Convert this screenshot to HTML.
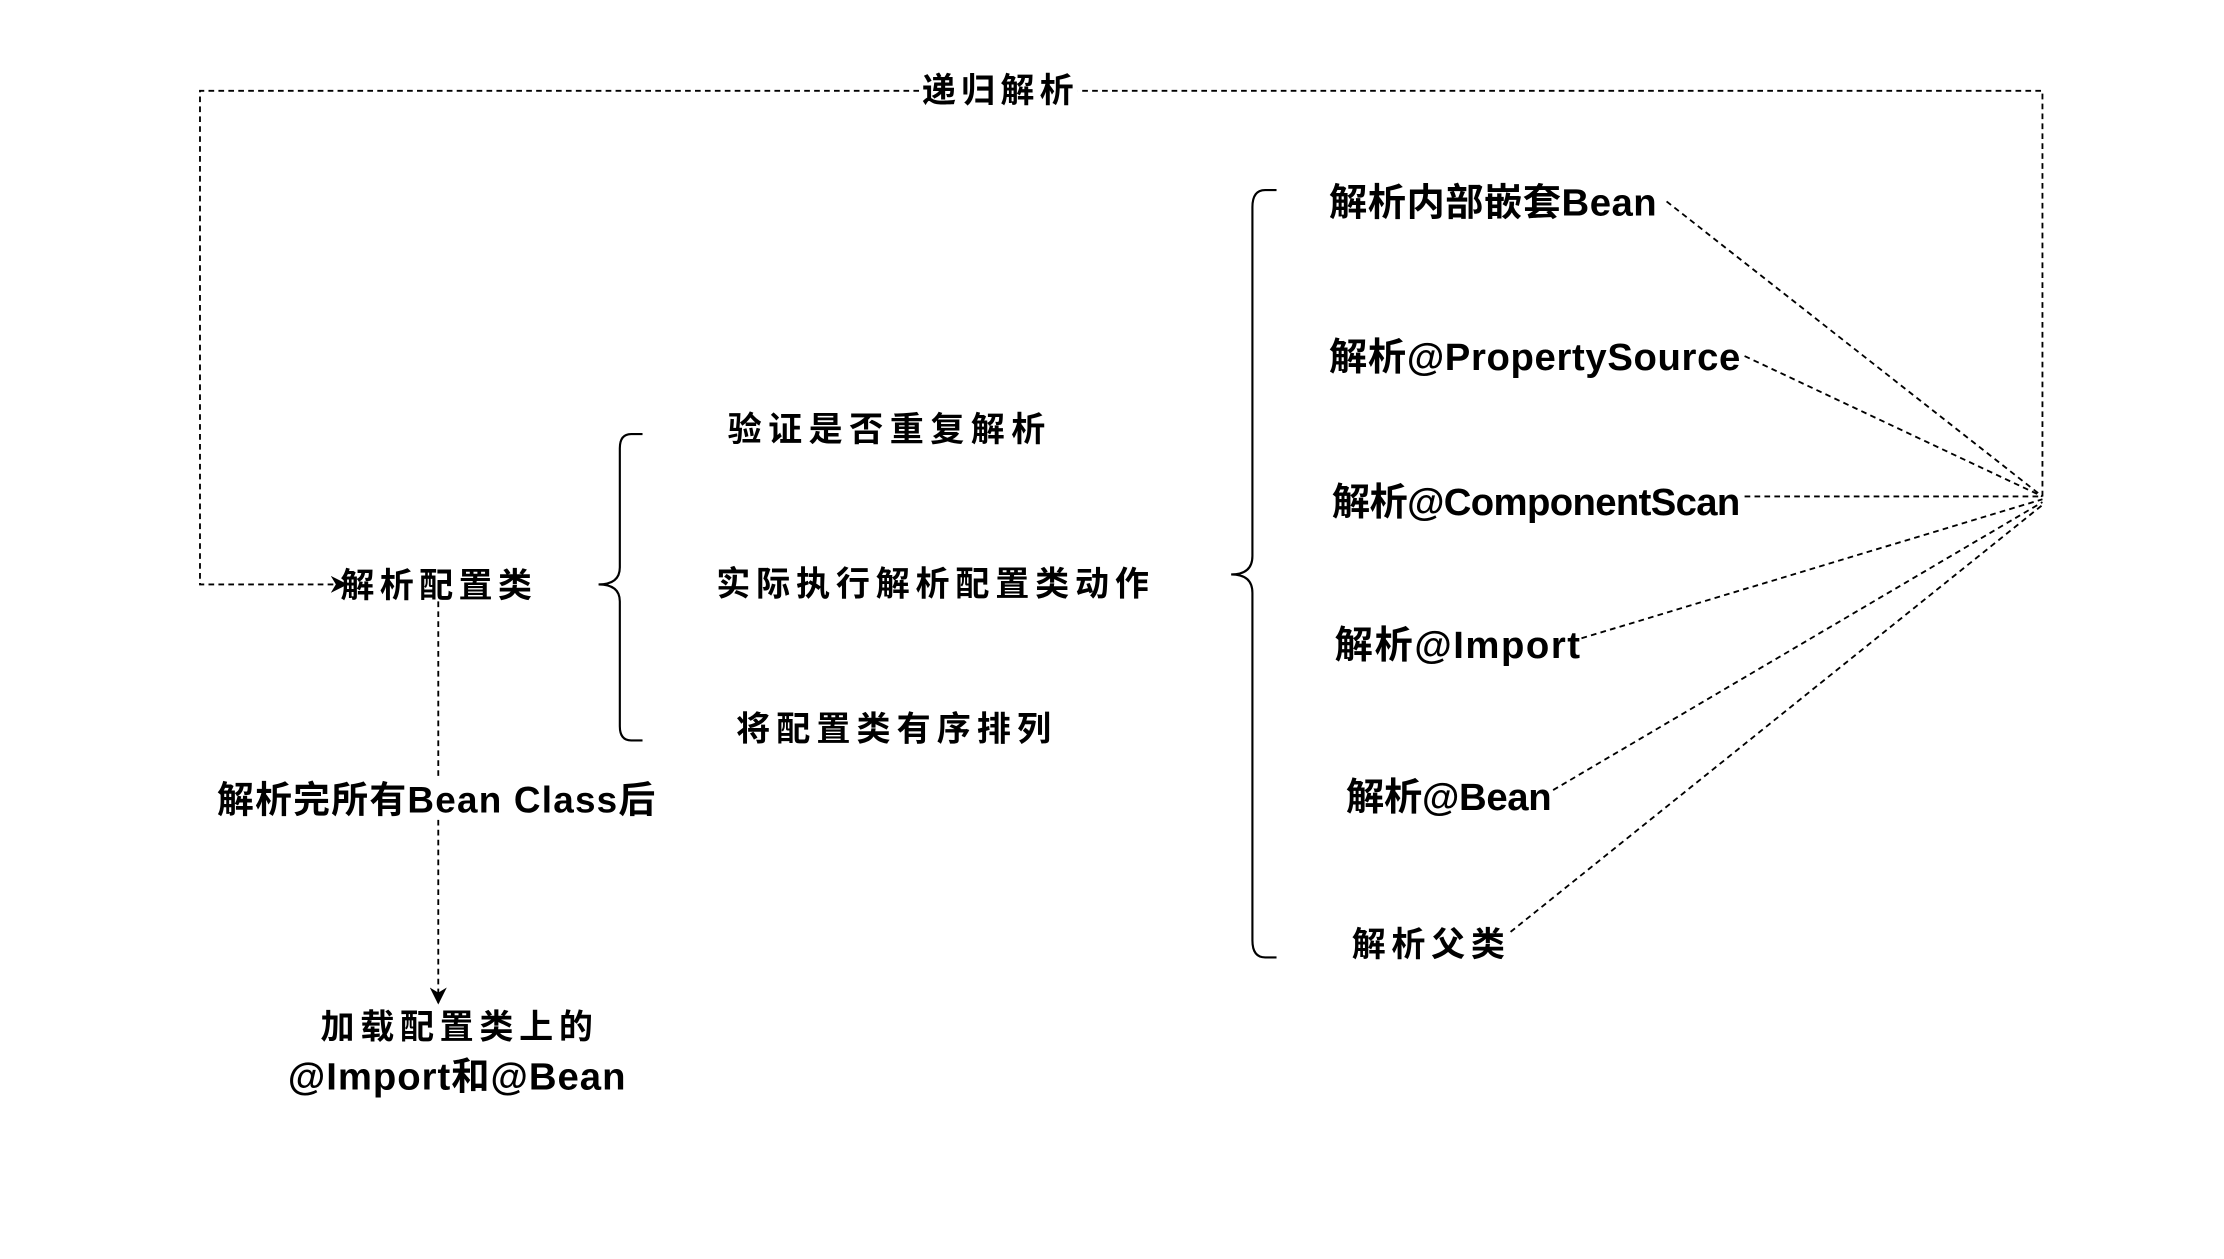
<!DOCTYPE html>
<html><head><meta charset="utf-8"><style>
html,body{margin:0;padding:0;background:#fff;}
svg{display:block;}
text{font-family:"Liberation Sans","Noto Sans CJK SC",sans-serif;font-weight:bold;fill:#000;}
</style></head><body>
<svg width="2224" height="1259" viewBox="0 0 1568 887.6" xmlns="http://www.w3.org/2000/svg">
<defs><marker id="ar" viewBox="0 0 10 10" refX="9" refY="5" markerWidth="12" markerHeight="12" orient="auto" markerUnits="userSpaceOnUse"><path d="M0,0 L10,5 L0,10 L3,5 Z" fill="#000"/></marker></defs>
<g fill="none" stroke="#000" stroke-width="1.3" stroke-dasharray="4,3">
<path d="M1440,350 L1440,64 L141,64 L141,412 L244,412" marker-end="url(#ar)"/>
<path d="M309,424 L309,707" marker-end="url(#ar)"/>
<path d="M1175,142 L1440,350"/>
<path d="M1230,251 L1440,350"/>
<path d="M1230,350 L1440,350"/>
<path d="M1115,450 L1440,352"/>
<path d="M1095,557 L1440,354"/>
<path d="M1065,657 L1440,356"/>
</g>
<g fill="none" stroke="#000" stroke-width="1.5">
<path d="M453,306 L445,306 Q437,306 437,316 L437,400 Q437,412 422,412 Q437,412 437,424 L437,512 Q437,522 445,522 L453,522"/>
<path d="M900,134 L892,134 Q883,134 883,146 L883,392 Q883,405 868,405 Q883,405 883,418 L883,663 Q883,675 892,675 L900,675"/>
</g>
<rect x="648" y="50" width="112" height="26" fill="#fff"/>
<text x="650" y="72" font-size="24" textLength="107" lengthAdjust="spacing">递归解析</text>
<text x="240" y="421" font-size="24" textLength="135" lengthAdjust="spacing">解析配置类</text>
<rect x="153" y="549" width="310" height="28" fill="#fff"/>
<text x="153" y="573" font-size="26" textLength="309" lengthAdjust="spacing">解析完所有Bean Class后</text>
<text x="226" y="732" font-size="24" textLength="192" lengthAdjust="spacing">加载配置类上的</text>
<text x="203" y="768" font-size="27" textLength="238" lengthAdjust="spacing">@Import和@Bean</text>
<text x="513" y="311" font-size="24" textLength="224" lengthAdjust="spacing">验证是否重复解析</text>
<text x="505" y="420" font-size="24" textLength="305" lengthAdjust="spacing">实际执行解析配置类动作</text>
<text x="519" y="522" font-size="24" textLength="222" lengthAdjust="spacing">将配置类有序排列</text>
<text x="937" y="152" font-size="27" textLength="231" lengthAdjust="spacing">解析内部嵌套Bean</text>
<text x="937" y="261" font-size="27" textLength="290" lengthAdjust="spacing">解析@PropertySource</text>
<text x="939" y="363" font-size="27" textLength="288" lengthAdjust="spacing">解析@ComponentScan</text>
<text x="941" y="464" font-size="27" textLength="173" lengthAdjust="spacing">解析@Import</text>
<text x="949" y="571" font-size="27" textLength="145" lengthAdjust="spacing">解析@Bean</text>
<text x="953" y="674" font-size="24" textLength="108" lengthAdjust="spacing">解析父类</text>
</svg>
</body></html>
